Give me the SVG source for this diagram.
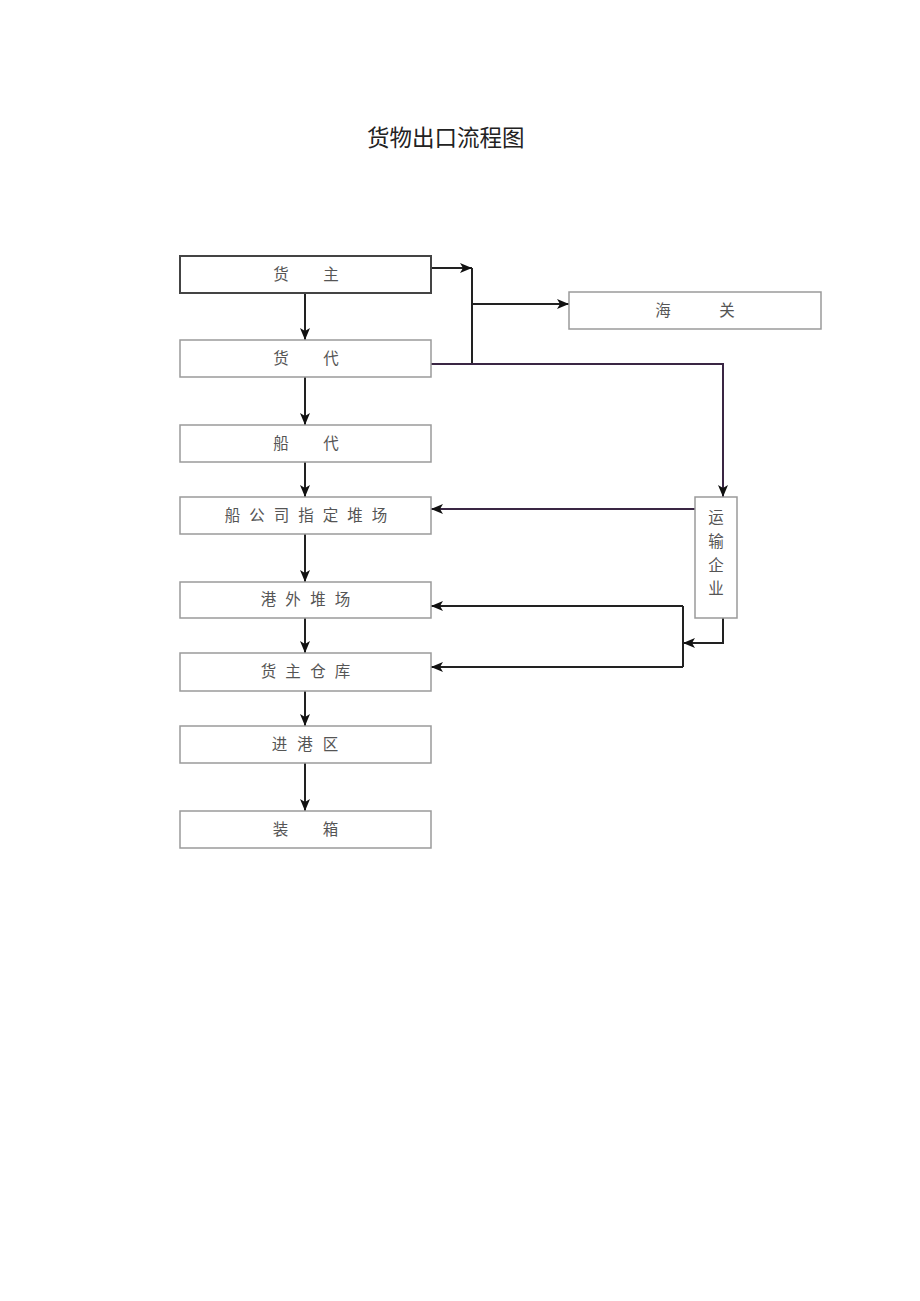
<svg xmlns="http://www.w3.org/2000/svg" width="920" height="1301" viewBox="0 0 920 1301">
<style>
.box{fill:#fff;stroke:#9a9a9a;stroke-width:1.5}
.box.main{stroke:#444;stroke-width:2}
.lbl{font-family:"Liberation Serif","Noto Sans CJK SC",serif;font-size:15.5px;fill:#555;text-anchor:middle}
.title{font-family:"Liberation Serif","Noto Sans CJK SC",serif;font-size:22.5px;fill:#222}
.ln{fill:none;stroke:#222;stroke-width:2}
.ln.p{stroke:#3a2644}
</style>
<defs>
<marker id="ah" viewBox="0 0 12 12" refX="12" refY="6" markerWidth="12" markerHeight="12" markerUnits="userSpaceOnUse" orient="auto">
<path d="M0,1 L12,6 L0,11 L3,6 Z" fill="#111"/>
</marker>
</defs>
<rect width="920" height="1301" fill="#fff"/>
<text class="title" x="367" y="146">货物出口流程图</text>

<g id="connectors">
<path class="ln" d="M305,293 V340" marker-end="url(#ah)"/>
<path class="ln" d="M305,377 V425" marker-end="url(#ah)"/>
<path class="ln" d="M305,462 V497" marker-end="url(#ah)"/>
<path class="ln" d="M305,534 V582" marker-end="url(#ah)"/>
<path class="ln" d="M305,618 V653" marker-end="url(#ah)"/>
<path class="ln" d="M305,691 V726" marker-end="url(#ah)"/>
<path class="ln" d="M305,763 V811" marker-end="url(#ah)"/>
<path class="ln" d="M431,268 H472" marker-end="url(#ah)"/>
<path class="ln" d="M472,268 V364"/>
<path class="ln" d="M472,304 H569" marker-end="url(#ah)"/>
<path class="ln p" d="M431,364 H723 V497" marker-end="url(#ah)"/>
<path class="ln p" d="M695,509 H431" marker-end="url(#ah)"/>
<path class="ln" d="M723,618 V643 H683" marker-end="url(#ah)"/>
<path class="ln" d="M683,606 V667"/>
<path class="ln" d="M683,606 H431" marker-end="url(#ah)"/>
<path class="ln" d="M683,667 H431" marker-end="url(#ah)"/>
</g>

<g id="n-huozhu">
<rect class="box main" x="180" y="256" width="251" height="37"/>
<text class="lbl" y="280"><tspan x="281">货</tspan><tspan x="331">主</tspan></text>
</g>
<g id="n-haiguan">
<rect class="box" x="569" y="292" width="252" height="37"/>
<text class="lbl" y="316"><tspan x="663">海</tspan><tspan x="727">关</tspan></text>
</g>
<g id="n-huodai">
<rect class="box" x="180" y="340" width="251" height="37"/>
<text class="lbl" y="364"><tspan x="281">货</tspan><tspan x="331">代</tspan></text>
</g>
<g id="n-chuandai">
<rect class="box" x="180" y="425" width="251" height="37"/>
<text class="lbl" y="449"><tspan x="281">船</tspan><tspan x="331">代</tspan></text>
</g>
<g id="n-duichang">
<rect class="box" x="180" y="497" width="251" height="37"/>
<text class="lbl" y="521"><tspan x="232.5">船</tspan><tspan x="257">公</tspan><tspan x="281.5">司</tspan><tspan x="306">指</tspan><tspan x="330.5">定</tspan><tspan x="355">堆</tspan><tspan x="379.5">场</tspan></text>
</g>
<g id="n-gangwai">
<rect class="box" x="180" y="582" width="251" height="36"/>
<text class="lbl" y="605"><tspan x="268.5">港</tspan><tspan x="293">外</tspan><tspan x="318">堆</tspan><tspan x="342.5">场</tspan></text>
</g>
<g id="n-cangku">
<rect class="box" x="180" y="653" width="251" height="38"/>
<text class="lbl" y="677"><tspan x="268.5">货</tspan><tspan x="293">主</tspan><tspan x="318">仓</tspan><tspan x="342.5">库</tspan></text>
</g>
<g id="n-jingang">
<rect class="box" x="180" y="726" width="251" height="37"/>
<text class="lbl" y="750"><tspan x="279.5">进</tspan><tspan x="305">港</tspan><tspan x="330.5">区</tspan></text>
</g>
<g id="n-zhuangxiang">
<rect class="box" x="180" y="811" width="251" height="37"/>
<text class="lbl" y="835"><tspan x="280.5">装</tspan><tspan x="330.5">箱</tspan></text>
</g>
<g id="n-yunshu">
<rect class="box" x="695" y="497" width="42" height="121"/>
<text class="lbl"><tspan x="716" y="523">运</tspan><tspan x="716" y="547">输</tspan><tspan x="716" y="571">企</tspan><tspan x="716" y="594">业</tspan></text>
</g>
</svg>
